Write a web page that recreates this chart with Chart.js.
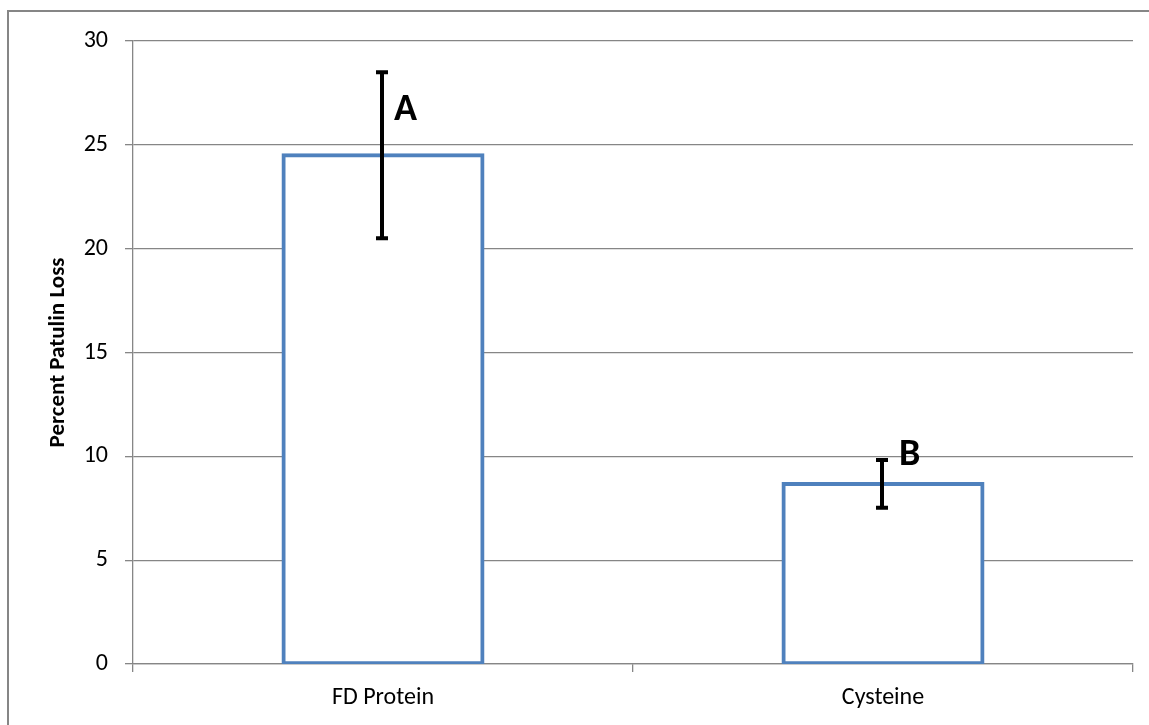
<!DOCTYPE html>
<html>
<head>
<meta charset="utf-8">
<script src="https://cdn.jsdelivr.net/npm/chart.js@4.4.0/dist/chart.umd.min.js"></script>
<style>
html,body{margin:0;padding:0;background:#fff;}
#wrap{width:1149px;height:725px;position:relative;}
</style>
</head>
<body>
<div id="wrap"><canvas id="chart" width="1149" height="725"></canvas></div>
<script>
// chart data
const categories=["FD Protein","Cysteine"];
const values=[24.5,8.67];
const errors=[4.0,1.15];
const letters=["A","B"];
const yTicks=[0,5,10,15,20,25,30];

const gridColor="#868686";
const barColor="#4F81BD";
const fontFam="Carlito, Lato, 'Open Sans', sans-serif";

// gray frame round the whole chart
const framePlugin={
    id:"frame",
    beforeDraw(chart){
        const ctx=chart.ctx;
        ctx.save();
        ctx.strokeStyle="#868686";
        ctx.lineWidth=2;
        ctx.strokeRect(8,11,1160,740);
        ctx.restore();
    }
};

// error bars and the letter marks
const errorPlugin={
    id:"errbars",
    afterDatasetsDraw(chart){
        const ctx=chart.ctx;
        const y=chart.scales.y;
        const meta=chart.getDatasetMeta(0);
        const letterOffsets=[{dx:12,dy:38},{dx:17,dy:-5}];
        ctx.save();
        meta.data.forEach((bar,i)=>{
            const x=bar.x-1;
            const top=y.getPixelForValue(values[i]+errors[i]);
            const bot=y.getPixelForValue(values[i]-errors[i]);
            ctx.strokeStyle="#000";
            ctx.lineWidth=4;
            ctx.beginPath();
            ctx.moveTo(x,top);ctx.lineTo(x,bot);
            ctx.moveTo(x-6,top);ctx.lineTo(x+6,top);
            ctx.moveTo(x-6,bot);ctx.lineTo(x+6,bot);
            ctx.stroke();
            ctx.fillStyle="#000";
            ctx.font="bold 38px "+fontFam;
            ctx.textAlign="left";
            ctx.textBaseline="middle";
            ctx.fillText(letters[i],x+letterOffsets[i].dx,top+letterOffsets[i].dy);
        });
        ctx.restore();
    }
};

const ctx=document.getElementById("chart").getContext("2d");
const myChart=new Chart(ctx,{
    type:"bar",
    data:{
        labels:categories,
        datasets:[{
            data:values,
            backgroundColor:"#ffffff",
            borderColor:barColor,
            borderWidth:4,
            borderSkipped:false,
            inflateAmount:2,
            categoryPercentage:1.0,
            barPercentage:0.398
        }]
    },
    options:{
        responsive:false,
        animation:false,
        devicePixelRatio:1,
        layout:{padding:{left:0,right:16,top:41,bottom:0}},
        plugins:{legend:{display:false},tooltip:{enabled:false}},
        scales:{
            x:{
                offset:true,
                grid:{
                    offset:true,
                    drawOnChartArea:false,
                    color:gridColor,
                    tickLength:8,
                    lineWidth:1.3
                },
                border:{color:gridColor,width:1.3},
                ticks:{color:"#000",font:{family:fontFam,size:24},padding:12},
                afterFit(scale){scale.height=61;}
            },
            y:{
                min:0,max:30,
                afterBuildTicks(scale){scale.ticks=yTicks.map(v=>({value:v}));},
                grid:{color:gridColor,tickLength:8,lineWidth:1.3},
                border:{color:gridColor,width:1.3},
                ticks:{color:"#000",font:{family:fontFam,size:24},padding:17},
                title:{
                    display:true,
                    text:"Percent Patulin Loss",
                    color:"#000",
                    font:{family:fontFam,size:23,weight:"bold"},
                    padding:{top:44,bottom:0}
                },
                afterFit(scale){scale.width=133;}
            }
        }
    },
    plugins:[framePlugin,errorPlugin]
});
</script>
</body>
</html>
